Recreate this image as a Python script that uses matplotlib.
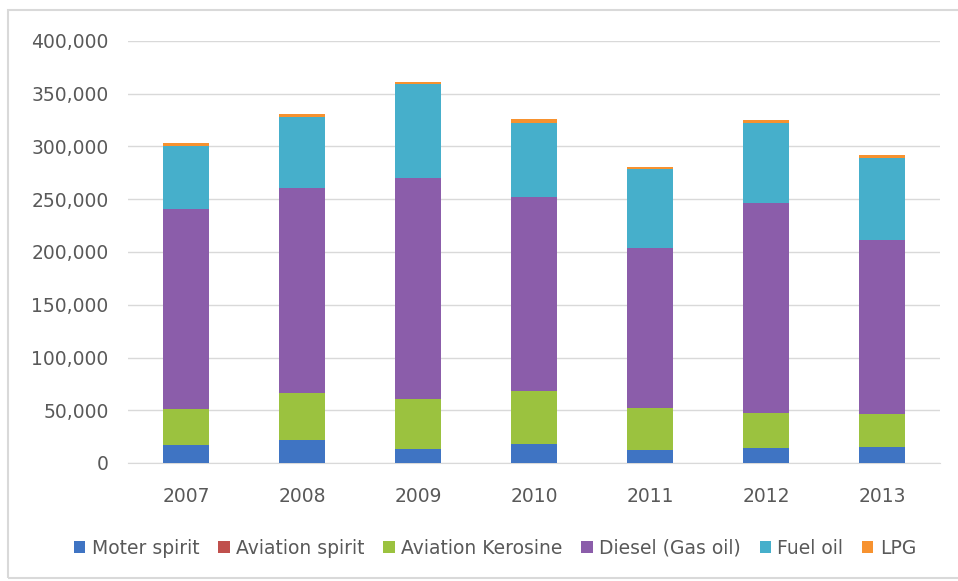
import numpy as np
import matplotlib.pyplot as plt
from matplotlib.patches import Rectangle
from matplotlib.ticker import FuncFormatter

years = ['2007', '2008', '2009', '2010', '2011', '2012', '2013']
series_names = ['Moter spirit', 'Aviation spirit', 'Aviation Kerosine',
                'Diesel (Gas oil)', 'Fuel oil', 'LPG']

moter_spirit = [17000, 21700, 12900, 18000, 12300, 14500, 15400]
aviation_spirit = [100, 100, 100, 100, 100, 100, 100]
aviation_kerosine = [33900, 44100, 48100, 49900, 39300, 32400, 30800]
diesel = [189700, 194600, 209500, 184300, 152100, 199000, 165400]
fuel_oil = [59800, 67400, 88200, 70200, 75300, 76500, 77200]
lpg = [3100, 3100, 2200, 3200, 1800, 2300, 3100]

colors = ['#3F74C3', '#C0504D', '#9BC23F', '#8B5DAA', '#46AFCB', '#F7922F']
text_color = '#595959'

plt.rcParams['font.family'] = ['DejaVu Sans']

fig = plt.figure(figsize=(9.58, 5.81), dpi=100)
ax = fig.add_axes([128 / 958, 1 - 463 / 581, 812 / 958, 422 / 581])

x = np.arange(len(years))
bottom = np.zeros(len(years))
data = [moter_spirit, aviation_spirit, aviation_kerosine, diesel, fuel_oil, lpg]
for name, vals, c in zip(series_names, data, colors):
    ax.bar(x, vals, width=0.4, bottom=bottom, color=c, label=name, zorder=3)
    bottom += np.array(vals)

ax.set_xlim(-0.5, len(years) - 0.5)
ax.set_ylim(0, 400000)
ax.set_yticks(np.arange(0, 400001, 50000))
ax.yaxis.set_major_formatter(FuncFormatter(lambda v, p: '{:,.0f}'.format(v)))
ax.set_xticks(x)
ax.set_xticklabels(years)
ax.grid(axis='y', color='#D9D9D9', linewidth=1, zorder=0)
for s in ['top', 'right', 'left']:
    ax.spines[s].set_visible(False)
ax.spines['bottom'].set_color('#D9D9D9')
ax.tick_params(axis='y', length=0, pad=14, labelsize=13.5, labelcolor=text_color)
ax.tick_params(axis='x', length=0, pad=17, labelsize=13.5, labelcolor=text_color)

fig.legend(loc='center', bbox_to_anchor=(0.517, 1 - 548 / 581), ncol=6,
           frameon=False, fontsize=13.5, labelcolor=text_color,
           handlelength=0.6, handleheight=0.6, handletextpad=0.35,
           columnspacing=1.0, borderaxespad=0)

# light frame round the whole chart
fig.patches.append(Rectangle((8 / 958, 1 - 578 / 581), 960 / 958, 568 / 581,
                             transform=fig.transFigure, fill=False,
                             edgecolor='#D9D9D9', linewidth=1.5))

fig.savefig('out.png', dpi=100)
